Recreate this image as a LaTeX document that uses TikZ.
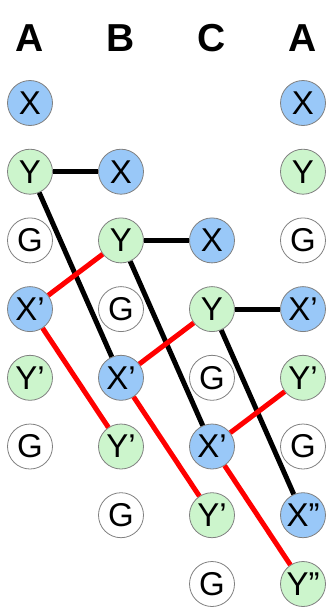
\documentclass[tikz,border=0pt]{standalone}
\usepackage{fontspec}
\setmainfont{Liberation Sans}
\definecolor{nodeblue}{HTML}{99C8F8}
\definecolor{nodegreen}{HTML}{CCF5CC}
\definecolor{linkred}{HTML}{FF0000}
\begin{document}
\begin{tikzpicture}[x=1pt,y=-1pt,
  base/.style={circle,draw=black!50,line width=0.8pt,minimum size=45pt,inner sep=0pt,
    font=\fontsize{33}{33}\selectfont},
  xnode/.style={base,fill=nodeblue},
  ynode/.style={base,fill=nodegreen},
  gnode/.style={base,fill=white},
  head/.style={font=\fontsize{39}{39}\selectfont\bfseries},
  blk/.style={line width=5pt,black},
  redl/.style={line width=5pt,linkred}]
\useasboundingbox (0,0) rectangle (327,608);
% columns and rows
\def\ca{30}\def\cb{121}\def\cc{212}\def\cd{303}
\def\ra{103}\def\rb{171.7}\def\rc{240.4}\def\rd{309.1}
\def\re{377.8}\def\rf{446.5}\def\rg{515.2}\def\rh{584}
% headers
\node[head] (hA) at (\ca,38) {A};
\node[head] (hB) at (\cb,38) {B};
\node[head] (hC) at (\cc,38) {C};
\node[head] (hD) at (\cd,38) {A};
% column A
\node[xnode] (a1) at (\ca,\ra) {X};
\node[ynode] (a2) at (\ca,\rb) {Y};
\node[gnode] (a3) at (\ca,\rc) {G};
\node[xnode] (a4) at (\ca,\rd) {X’};
\node[ynode] (a5) at (\ca,\re) {Y’};
\node[gnode] (a6) at (\ca,\rf) {G};
% column B
\node[xnode] (b2) at (\cb,\rb) {X};
\node[ynode] (b3) at (\cb,\rc) {Y};
\node[gnode] (b4) at (\cb,\rd) {G};
\node[xnode] (b5) at (\cb,\re) {X’};
\node[ynode] (b6) at (\cb,\rf) {Y’};
\node[gnode] (b7) at (\cb,\rg) {G};
% column C
\node[xnode] (c3) at (\cc,\rc) {X};
\node[ynode] (c4) at (\cc,\rd) {Y};
\node[gnode] (c5) at (\cc,\re) {G};
\node[xnode] (c6) at (\cc,\rf) {X’};
\node[ynode] (c7) at (\cc,\rg) {Y’};
\node[gnode] (c8) at (\cc,\rh) {G};
% column A (again)
\node[xnode] (d1) at (\cd,\ra) {X};
\node[ynode] (d2) at (\cd,\rb) {Y};
\node[gnode] (d3) at (\cd,\rc) {G};
\node[xnode] (d4) at (\cd,\rd) {X’};
\node[ynode] (d5) at (\cd,\re) {Y’};
\node[gnode] (d6) at (\cd,\rf) {G};
\node[xnode] (d7) at (\cd,\rg) {X”};
\node[ynode] (d8) at (\cd,\rh) {Y”};
% black links
\draw[blk] (a2) -- (b2);
\draw[blk] (a2) -- (b5);
\draw[blk] (b3) -- (c3);
\draw[blk] (b3) -- (c6);
\draw[blk] (c4) -- (d4);
\draw[blk] (c4) -- (d7);
% red links
\draw[redl] (a4) -- (b3);
\draw[redl] (a4) -- (b6);
\draw[redl] (b5) -- (c4);
\draw[redl] (b5) -- (c7);
\draw[redl] (c6) -- (d5);
\draw[redl] (c6) -- (d8);
\end{tikzpicture}
\end{document}
